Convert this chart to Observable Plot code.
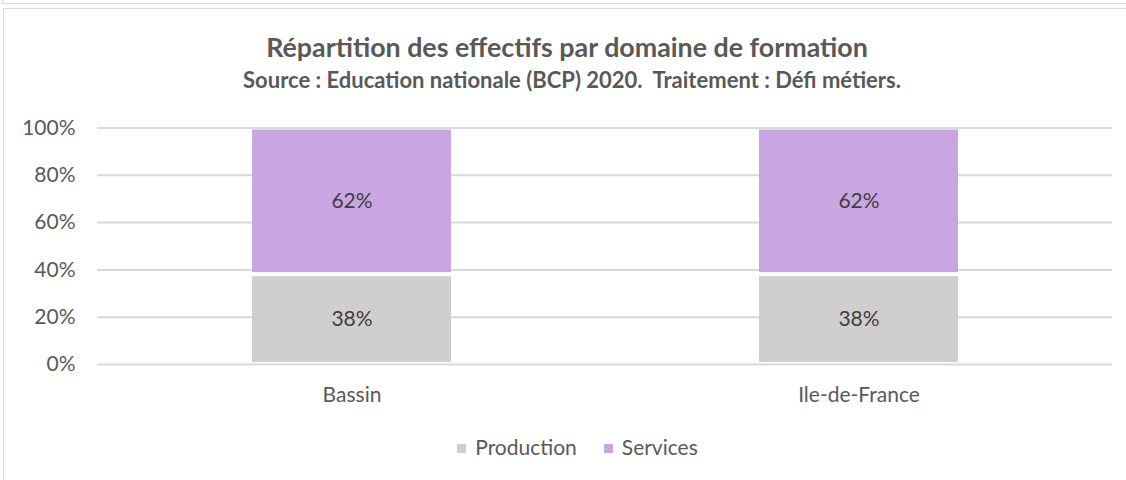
<!DOCTYPE html>
<html>
<head>
<meta charset="utf-8">
<script src="https://cdn.jsdelivr.net/npm/d3@7"></script>
<script src="https://cdn.jsdelivr.net/npm/@observablehq/plot@0.6"></script>
<style>
  html, body { margin: 0; padding: 0; background: #fff; width: 1126px; height: 480px; overflow: hidden; }
  body { font-family: Lato, "Open Sans", sans-serif; color: #595959; position: relative; }
  #prevframe { position: absolute; left: 2px; top: -10px; width: 1140px; height: 14px; border: 1.5px solid #d9d9d9; box-sizing: border-box; }
  #frame { position: absolute; left: 3px; top: 8px; width: 1140px; height: 490px; border: 1.5px solid #d9d9d9; box-sizing: border-box; }
  .t { position: absolute; left: 0; text-align: center; font-weight: bold; color: #595959; white-space: nowrap; }
  #title { width: 1134px; top: 34px; font-size: 26.8px; line-height: 26.8px; }
  #subtitle { width: 1144px; top: 69px; font-size: 22px; line-height: 22px; }
  #chart { position: absolute; left: 0; top: 110px; }
  #legend { position: absolute; left: 0; width: 1155px; top: 436.4px; text-align: center; font-size: 21px; line-height: 21px; color: #595959; white-space: nowrap; }
  #legend span.item { display: inline-block; margin: 0 13.5px; }
  #legend span.sw { display: inline-block; width: 9px; height: 9px; margin-right: 9px; vertical-align: 2px; }
</style>
</head>
<body>
<div id="prevframe"></div>
<div id="frame"></div>
<div id="title" class="t">Répartition des effectifs par domaine de formation</div>
<div id="subtitle" class="t">Source : Education nationale (BCP) 2020.&nbsp; Traitement : Défi métiers.</div>
<div id="chart"></div>
<div id="legend"></div>
<script>
const categories = ["Bassin", "Ile-de-France"];
const seriesNames = ["Production", "Services"];
const production = [38, 38];
const services = [62, 62];
const yTicks = [0, 20, 40, 60, 80, 100];
const seriesColors = ["#d0cece", "#c9a6e2"];

const rows = [];
categories.forEach((c, i) => {
  rows.push({category: c, series: seriesNames[0], value: production[i]});
  rows.push({category: c, series: seriesNames[1], value: services[i]});
});

const chart = Plot.plot({
  width: 1126,
  height: 300,
  marginLeft: 97,
  marginRight: 14,
  marginTop: 17.5,
  marginBottom: 46,
  style: { fontFamily: "Lato, 'Open Sans', sans-serif", fontSize: "21px", color: "#595959", background: "transparent" },
  x: { domain: categories, paddingInner: 0.608, paddingOuter: 0.304, label: null },
  y: { domain: [0, 100], label: null },
  color: { domain: seriesNames, range: seriesColors },
  marks: [
    Plot.ruleY(yTicks, { stroke: "#d9d9d9", strokeWidth: 2 }),
    Plot.barY(rows, Plot.stackY({ x: "category", y: "value", fill: "series", order: seriesNames, insetTop: 2, insetBottom: 2 })),
    Plot.text(rows, Plot.stackY({ x: "category", y: "value", z: "series", order: seriesNames, text: d => d.value + "%", fill: "#404040", fontSize: 21 })),
    Plot.axisX({ tickSize: 0, tickPadding: 23, fontSize: 21, fill: "#595959" }),
    Plot.axisY({ ticks: yTicks, tickFormat: d => d + "%", tickSize: 0, tickPadding: 22, fontSize: 21, fill: "#595959" })
  ]
});
document.getElementById("chart").appendChild(chart);

const legend = document.getElementById("legend");
seriesNames.forEach((s, i) => {
  const item = document.createElement("span");
  item.className = "item";
  const sw = document.createElement("span");
  sw.className = "sw";
  sw.style.background = seriesColors[i];
  item.appendChild(sw);
  item.appendChild(document.createTextNode(s));
  legend.appendChild(item);
});
</script>
</body>
</html>
